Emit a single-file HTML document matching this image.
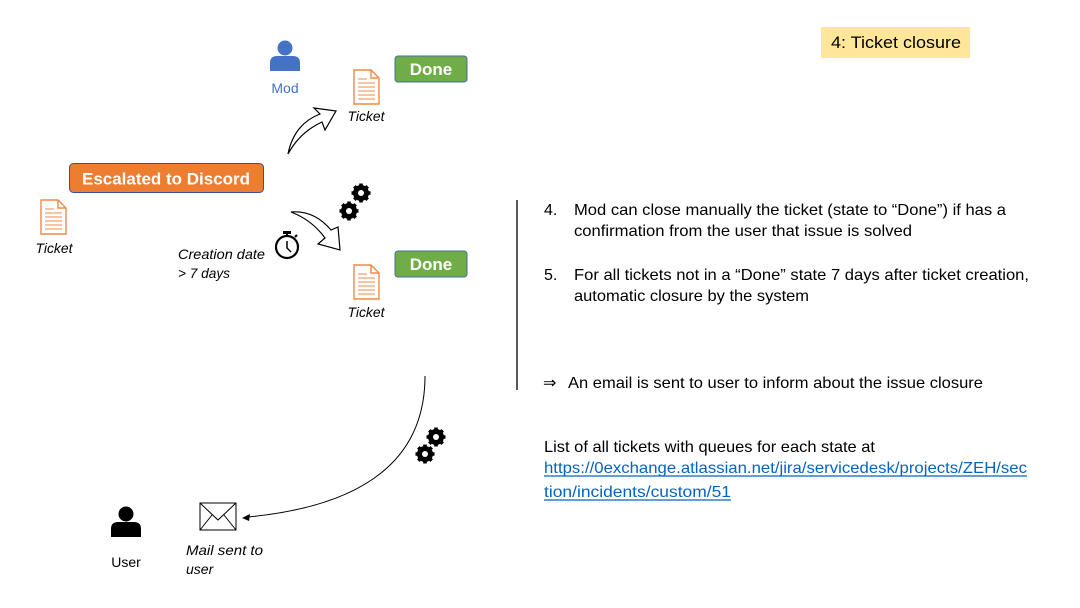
<!DOCTYPE html>
<html><head><meta charset="utf-8"><style>
html,body{margin:0;padding:0;background:#fff;}
svg{display:block;font-family:"Liberation Sans",sans-serif;}
</style></head><body>
<svg width="1080" height="608" viewBox="0 0 1080 608" xmlns="http://www.w3.org/2000/svg">
<defs>
<g id="doc">
<path d="M0 0 H17 L25 8 V34 H0 Z" fill="#fff" stroke="#f08a45" stroke-width="1.4"/>
<path d="M17 0 V8 H25" fill="none" stroke="#f08a45" stroke-width="1.4"/>
<g stroke="#f08a45" stroke-width="1"><line x1="4" y1="13" x2="21" y2="13"/><line x1="4" y1="17" x2="21" y2="17"/><line x1="4" y1="21" x2="21" y2="21"/><line x1="4" y1="25" x2="21" y2="25"/><line x1="4" y1="29" x2="21" y2="29"/><line x1="4" y1="9" x2="13" y2="9"/></g>
</g>
<g id="gear">
<circle r="6" fill="none" stroke="#000" stroke-width="4"/>
<g stroke="#000" stroke-width="3.6"><line x1="0" y1="-9.5" x2="0" y2="9.5"/><line x1="-9.5" y1="0" x2="9.5" y2="0"/><line x1="-6.7" y1="-6.7" x2="6.7" y2="6.7"/><line x1="-6.7" y1="6.7" x2="6.7" y2="-6.7"/></g>
<circle r="3" fill="#fff"/>
</g>
<g id="person">
<circle cx="0" cy="-9" r="7.5"/>
<path d="M-15 14 V6 Q-15 -1 -8 -1 H8 Q15 -1 15 6 V14 Z"/>
</g>
</defs>

<rect x="821" y="27" width="149" height="31" fill="#ffe699"/>
<text x="831" y="48" font-size="17" textLength="130" lengthAdjust="spacingAndGlyphs">4: Ticket closure</text>

<g fill="#4472c4" transform="translate(285,57)"><use href="#person"/></g>
<text x="285" y="93" font-size="14" fill="#4472c4" text-anchor="middle">Mod</text>

<use href="#doc" x="354" y="70"/>
<text x="366" y="121" font-size="14" font-style="italic" text-anchor="middle" textLength="37" lengthAdjust="spacingAndGlyphs">Ticket</text>
<rect x="395" y="56" width="72" height="26" rx="3" fill="#70ad47" stroke="#41719c" stroke-width="1"/>
<text x="431" y="75" font-size="17" font-weight="bold" fill="#fff" text-anchor="middle">Done</text>

<rect x="69.5" y="163.5" width="194" height="29" rx="4" fill="#ed7d31" stroke="#2f5597" stroke-width="1"/>
<text x="166" y="184.5" font-size="17" font-weight="bold" fill="#fff" text-anchor="middle" textLength="168" lengthAdjust="spacingAndGlyphs">Escalated to Discord</text>

<use href="#doc" x="41" y="200"/>
<text x="54" y="253" font-size="14" font-style="italic" text-anchor="middle" textLength="37" lengthAdjust="spacingAndGlyphs">Ticket</text>

<path d="M288 154 Q294 124 320 114 L314 108 L336 111 L325 130 L322 122 Q300 132 288 154 Z" fill="#fff" stroke="#000" stroke-width="1.2"/>
<path d="M291 212 Q314 210 331 230 L338 227 L340 250 L318 244 L325 238 Q312 220 291 212 Z" fill="#fff" stroke="#000" stroke-width="1.2"/>

<use href="#gear" x="361" y="193"/>
<use href="#gear" x="349" y="211"/>

<circle cx="287" cy="247" r="11" fill="none" stroke="#000" stroke-width="2.2"/>
<rect x="283" y="231" width="8" height="3" fill="#000"/>
<line x1="287" y1="234" x2="287" y2="236" stroke="#000" stroke-width="2"/>
<line x1="295" y1="237" x2="297" y2="235" stroke="#000" stroke-width="2"/>
<path d="M287 241 V248 L291 252" fill="none" stroke="#000" stroke-width="1.5"/>
<text x="178" y="259" font-size="14" font-style="italic" textLength="87" lengthAdjust="spacingAndGlyphs">Creation date</text>
<text x="178" y="278" font-size="14" font-style="italic" textLength="52" lengthAdjust="spacingAndGlyphs">&gt; 7 days</text>

<use href="#doc" x="354" y="265"/>
<text x="366" y="317" font-size="14" font-style="italic" text-anchor="middle" textLength="37" lengthAdjust="spacingAndGlyphs">Ticket</text>
<rect x="395" y="251" width="72" height="26" rx="3" fill="#70ad47" stroke="#41719c" stroke-width="1"/>
<text x="431" y="270" font-size="17" font-weight="bold" fill="#fff" text-anchor="middle">Done</text>

<line x1="517" y1="200" x2="517" y2="390" stroke="#000" stroke-width="1.3"/>

<g font-size="16" fill="#000">
<text x="544" y="215">4.</text>
<text x="574" y="215" textLength="432" lengthAdjust="spacingAndGlyphs">Mod can close manually the ticket (state to “Done”) if has a</text>
<text x="574" y="236" textLength="338" lengthAdjust="spacingAndGlyphs">confirmation from the user that issue is solved</text>
<text x="544" y="280">5.</text>
<text x="574" y="280" textLength="455" lengthAdjust="spacingAndGlyphs">For all tickets not in a “Done” state 7 days after ticket creation,</text>
<text x="574" y="301" textLength="235" lengthAdjust="spacingAndGlyphs">automatic closure by the system</text>
<text x="543" y="388">⇒</text>
<text x="568" y="388" textLength="415" lengthAdjust="spacingAndGlyphs">An email is sent to user to inform about the issue closure</text>
<text x="544" y="452" textLength="331" lengthAdjust="spacingAndGlyphs">List of all tickets with queues for each state at</text>
<text x="544" y="473" fill="#0563c1" textLength="483" lengthAdjust="spacingAndGlyphs">https://0exchange.atlassian.net/jira/servicedesk/projects/ZEH/sec</text>
<text x="544" y="497" fill="#0563c1" textLength="187" lengthAdjust="spacingAndGlyphs">tion/incidents/custom/51</text>
</g>
<line x1="544" y1="476" x2="1027" y2="476" stroke="#0563c1" stroke-width="1.2"/>
<line x1="544" y1="500" x2="731" y2="500" stroke="#0563c1" stroke-width="1.2"/>

<path d="M425 376 Q425 500 248 517" fill="none" stroke="#000" stroke-width="1"/>
<path d="M242 518 L250 514 L249 521 Z" fill="#000"/>
<use href="#gear" x="436" y="437"/>
<use href="#gear" x="425" y="454"/>

<g fill="#000" transform="translate(126,523)"><use href="#person"/></g>
<text x="126" y="567" font-size="14" text-anchor="middle">User</text>

<rect x="200" y="503" width="36" height="27" fill="#fff" stroke="#000" stroke-width="1"/>
<path d="M200 503 L218 520 L236 503 M200 530 L212 515 M236 530 L224 515" fill="none" stroke="#000" stroke-width="1"/>
<text x="186" y="555" font-size="14" font-style="italic" textLength="77" lengthAdjust="spacingAndGlyphs">Mail sent to</text>
<text x="186" y="574" font-size="14" font-style="italic">user</text>
</svg>
</body></html>
